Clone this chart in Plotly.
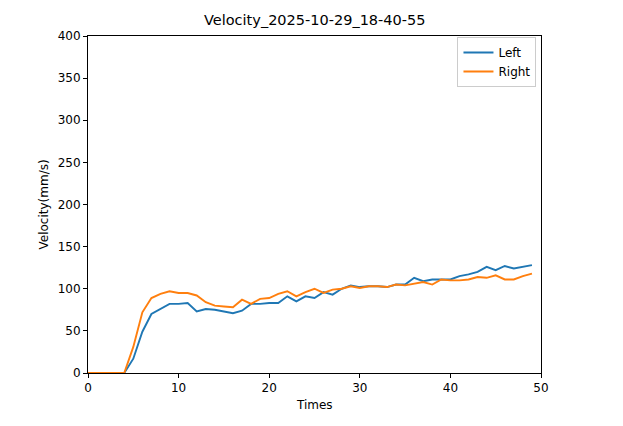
import plotly.graph_objects as go

times = list(range(50))
left = [0, 0, 0, 0, 0, 17, 49, 70, 76, 82,
        82, 83, 73, 76, 75, 73, 71, 74, 82, 82,
        83, 83, 91, 85, 91, 89, 96, 93, 100, 104,
        102, 103, 103, 102, 105, 105, 113, 109, 111, 111,
        111, 115, 117, 120, 126, 122, 127, 124, 126, 128]
right = [0, 0, 0, 0, 0, 31, 72, 89, 94, 97,
         95, 95, 92, 84, 80, 79, 78, 87, 82, 88,
         89, 94, 97, 91, 96, 100, 95, 99, 100, 103,
         101, 103, 103, 102, 105, 104, 106, 108, 105, 111,
         110, 110, 111, 114, 113, 116, 111, 111, 115, 118]
title = "Velocity_2025-10-29_18-40-55"
xlabel = "Times"
ylabel = "Velocity(mm/s)"

# page body has an 8px margin, so the figure is drawn offset by 8px
OFF = 8
W, H = 623 - OFF, 426 - OFF
L, R, T, B = 88 - OFF, 541 - OFF, 36 - OFF, 373 - OFF
font = "DejaVu Sans"

fig = go.Figure()
fig.add_trace(go.Scatter(x=times, y=left, mode="lines", name="Left",
                         line=dict(color="#1f77b4", width=1.9)))
fig.add_trace(go.Scatter(x=times, y=right, mode="lines", name="Right",
                         line=dict(color="#ff7f0e", width=1.9)))

axis_common = dict(showgrid=False, zeroline=False, showline=True, linecolor="black",
                   linewidth=1, mirror=True, ticks="outside", ticklen=4,
                   tickcolor="black", tickwidth=1,
                   tickfont=dict(family=font, size=12, color="black"))

fig.update_layout(
    width=W, height=H,
    margin=dict(l=L, r=W - R, t=T, b=H - B, pad=0),
    paper_bgcolor="white", plot_bgcolor="white",
    font=dict(family=font, size=12, color="black"),
    xaxis=dict(range=[0, 50], tickvals=[0, 10, 20, 30, 40, 50], **axis_common),
    yaxis=dict(range=[0, 400], tickvals=[0, 50, 100, 150, 200, 250, 300, 350, 400],
               **axis_common),
    showlegend=True,
    legend=dict(x=0.99, y=0.997, xanchor="right", yanchor="top",
                bgcolor="white", bordercolor="#cccccc", borderwidth=1,
                font=dict(family=font, size=12, color="black"),
                tracegroupgap=0, itemwidth=30),
    annotations=[
        dict(text=title, xref="paper", yref="paper", x=0.5, y=1 + (T - (20 - OFF)) / (B - T),
             showarrow=False, xanchor="center", yanchor="middle",
             font=dict(family=font, size=14.5, color="black")),
        dict(text=xlabel, xref="paper", yref="paper", x=0.5, y=-(405 - 373) / (B - T),
             showarrow=False, xanchor="center", yanchor="middle",
             font=dict(family=font, size=12, color="black")),
        dict(text=ylabel, xref="paper", yref="paper", x=-(88 - 43) / (R - L), y=0.5,
             showarrow=False, xanchor="center", yanchor="middle", textangle=-90,
             font=dict(family=font, size=12, color="black")),
    ],
)

fig.write_html("out.html")
